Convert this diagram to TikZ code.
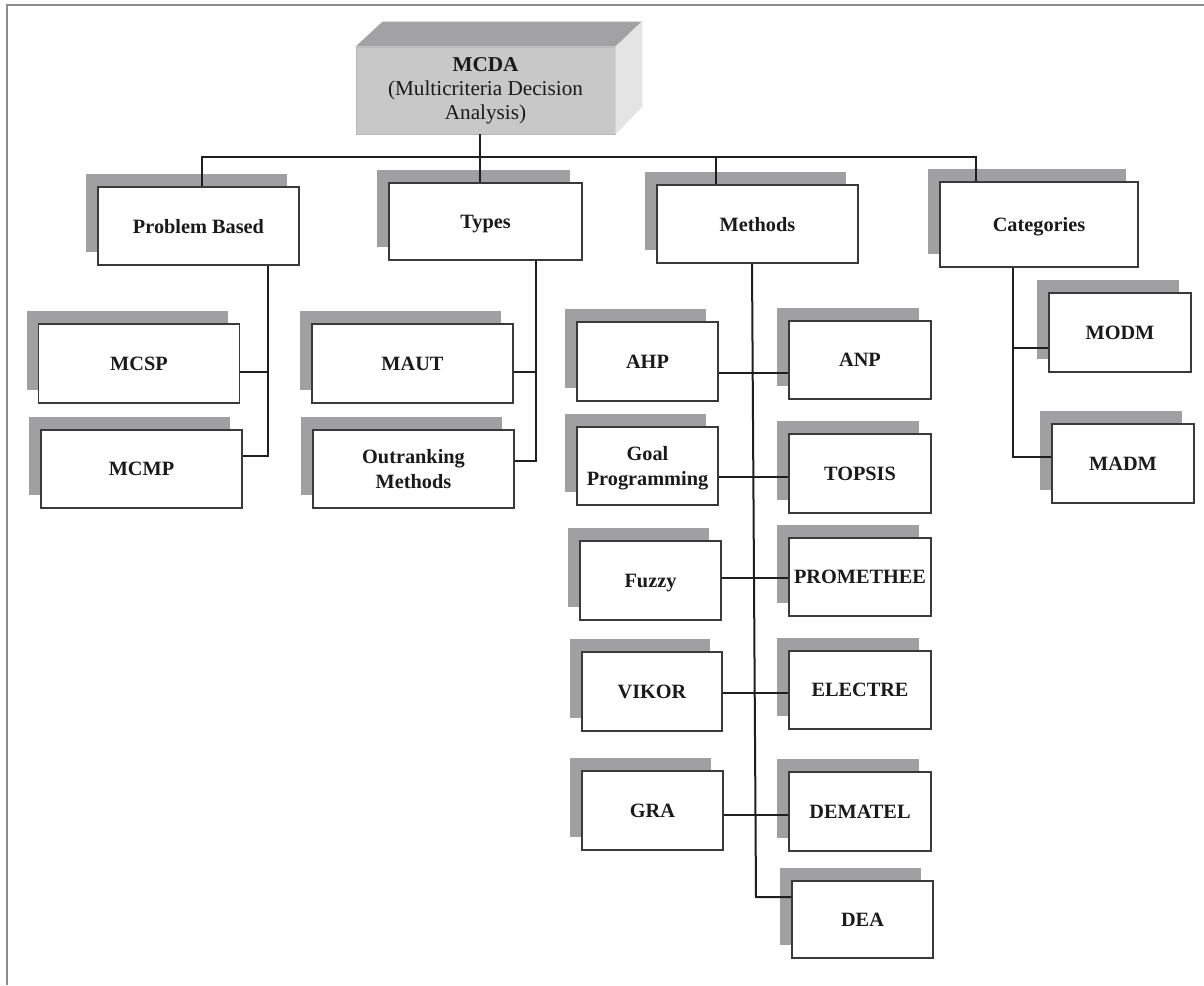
\documentclass[tikz,border=0pt]{standalone}
\usepackage{fontspec}
\setmainfont{Liberation Serif}
\usetikzlibrary{shadows}
\definecolor{shadowgray}{HTML}{A0A0A3}
\definecolor{linec}{HTML}{1E1E1E}
\definecolor{boxline}{HTML}{3A3A3A}
\definecolor{frontgray}{HTML}{C8C8C9}
\definecolor{topgray}{HTML}{A2A2A5}
\definecolor{sidegray}{HTML}{E4E4E5}
\definecolor{framegray}{HTML}{8C8C8C}
\definecolor{txt}{HTML}{1A1A1A}
\begin{document}
\begin{tikzpicture}[x=1pt,y=-1pt,
  box/.style={draw=boxline, line width=1.4pt, fill=white, inner sep=2pt, align=center,
    font=\fontsize{20.3}{24.5}\selectfont\bfseries, text=txt, text depth=0pt,
    general shadow={shadow xshift=-12pt, shadow yshift=13pt, fill=shadowgray}},
  wide/.style={box, minimum width=201pt, minimum height=78pt},
  narrow/.style={box, minimum width=141pt, minimum height=78pt},
  conn/.style={draw=linec, line width=2pt},
  mcdabox/.style={fill=frontgray, draw=frontgray!92!black, line width=0.8pt, align=center,
    minimum width=259pt, minimum height=87pt, text=txt,
    font=\fontsize{21.2}{24}\selectfont}]
\useasboundingbox (0,0) rectangle (1204,985);
\fill[white] (0,0) rectangle (1204,985);
\draw[framegray, line width=2pt] (7,985) -- (7,5) -- (1204,5);

% MCDA 3D box
\node[mcdabox] (mcda) at (485.5,90.5) {\textbf{MCDA}\\(Multicriteria Decision\\Analysis)};
\fill[topgray] (mcda.north west) -- ++(27,-25) -- ++(259,0) -- (mcda.north east) -- cycle;
\fill[sidegray] (mcda.north east) -- ++(27,-25) -- ++(0,85) -- (mcda.south east) -- cycle;

% first level
\node[wide] (pb) at (198.5,226) {Problem Based};
\node[wide, minimum width=193pt, minimum height=77pt] (types) at (485.5,221.5) {Types};
\node[wide] (methods) at (757.5,224) {Methods};
\node[wide, minimum width=198pt, minimum height=85pt] (cat) at (1039,224.5) {Categories};

% problem based children
\node[wide, minimum height=79pt] (mcsp) at (139,363.5) {MCSP};
\node[wide] (mcmp) at (141.5,469) {MCMP};
% types children
\node[wide, minimum height=79pt] (maut) at (412.5,363.5) {MAUT};
\node[wide] (outr) at (413.5,469) {Outranking\\Methods};
% methods children
\node[narrow, minimum height=79pt] (ahp) at (647.5,361.5) {AHP};
\node[narrow, minimum width=142pt] (anp) at (860,360) {ANP};
\node[narrow] (goal) at (647.5,466) {Goal\\Programming};
\node[narrow, minimum width=142pt, minimum height=79pt] (topsis) at (860,473.5) {TOPSIS};
\node[narrow, minimum height=79pt] (fuzzy) at (650.5,580.5) {Fuzzy};
\node[narrow, minimum width=142pt] (prom) at (860,577) {PROMETHEE};
\node[narrow, minimum width=140pt, minimum height=79pt] (vikor) at (652,691.5) {VIKOR};
\node[narrow, minimum width=142pt] (electre) at (860,690) {ELECTRE};
\node[narrow, minimum height=79pt] (gra) at (652.5,810.5) {GRA};
\node[narrow, minimum width=142pt, minimum height=79pt] (dematel) at (860,811.5) {DEMATEL};
\node[narrow, minimum height=77pt] (dea) at (862.5,919.5) {DEA};
% categories children
\node[narrow, minimum width=142pt, minimum height=79pt] (modm) at (1120,332.5) {MODM};
\node[narrow, minimum width=142pt, minimum height=79pt] (madm) at (1123,463.5) {MADM};

% bus
\coordinate (busL) at (202,157);
\coordinate (busR) at (976,157);
\coordinate (busM) at (716,157);
\draw[conn] (busL |- pb.north) -- (busL) -- (busR) -- (busR |- cat.north);
\draw[conn] (busM) -- (busM |- methods.north);
\draw[conn] ([xshift=-5.5pt]mcda.south) -- ([xshift=-5.5pt]types.north);

% problem based branch
\coordinate (pbv) at (268,0);
\draw[conn] (pb.south -| pbv) -- (pbv |- 0,456) -- (mcmp.east |- 0,456);
\draw[conn] (mcsp.east |- 0,372) -- (pbv |- 0,372);

% types branch
\coordinate (tv) at (536,0);
\draw[conn] (types.south -| tv) -- (tv |- 0,461) -- (outr.east |- 0,461);
\draw[conn] (maut.east |- 0,372) -- (tv |- 0,372);

% methods branch
\coordinate (mv) at (752,0);
\coordinate (mvb) at (756,897);
\draw[conn] (methods.south -| mv) -- (mvb) -- (dea.west |- mvb);
\draw[conn] (ahp.east |- 0,373) -- (anp.west |- 0,373);
\draw[conn] (goal.east |- 0,477) -- (topsis.west |- 0,477);
\draw[conn] (fuzzy.east |- 0,578) -- (prom.west |- 0,578);
\draw[conn] (vikor.east |- 0,693) -- (electre.west |- 0,693);
\draw[conn] (gra.east |- 0,815) -- (dematel.west |- 0,815);

% categories branch
\coordinate (cv) at (1013,0);
\draw[conn] (cat.south -| cv) -- (cv |- 0,457) -- (madm.west |- 0,457);
\draw[conn] (cv |- 0,348) -- (modm.west |- 0,348);
\end{tikzpicture}
\end{document}
